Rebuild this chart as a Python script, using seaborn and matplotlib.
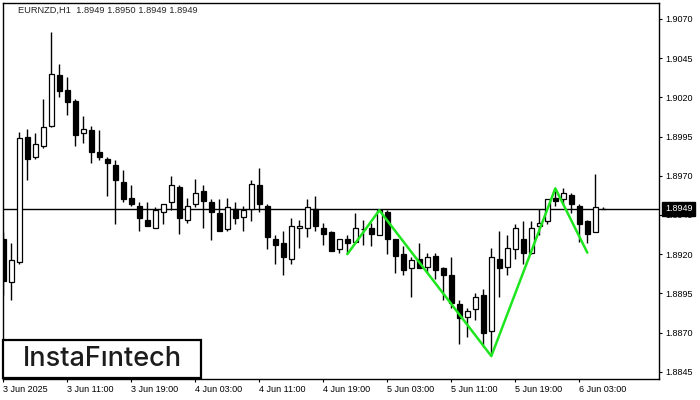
import matplotlib
matplotlib.use("Agg")
import matplotlib.pyplot as plt
import matplotlib.patches as mpatches
import matplotlib.transforms as mtransforms
import pandas as pd
import seaborn as sns

# EURNZD H1, one bar per hour starting 3 Jun 2025 03:00
opens = [
    1.8930, 1.8902, 1.8915, 1.8995, 1.8982, 1.8989, 1.9002, 1.9034, 1.9025, 1.9018,
    1.8997, 1.8999, 1.8985, 1.8981, 1.8977, 1.8966, 1.8956, 1.8951, 1.8942, 1.8937,
    1.8947, 1.8953, 1.8963, 1.8942, 1.8952, 1.8960, 1.8953, 1.8946, 1.8936, 1.8949,
    1.8944, 1.8949, 1.8964, 1.8951, 1.8930, 1.8927, 1.8917, 1.8937, 1.8937, 1.8949,
    1.8937, 1.8934, 1.8923, 1.8930, 1.8928, 1.8936, 1.8937, 1.8932, 1.8947, 1.8930,
    1.8920, 1.8911, 1.8917, 1.8912, 1.8919, 1.8911, 1.8907, 1.8888, 1.8880, 1.8885,
    1.8894, 1.8871, 1.8917, 1.8912, 1.8923, 1.8930, 1.8921, 1.8938, 1.8941, 1.8956,
    1.8955, 1.8958, 1.8951, 1.8941, 1.8934, 1.8949,
]
highs = [
    1.8934, 1.8927, 1.8998, 1.9000, 1.8997, 1.9019, 1.9062, 1.9041, 1.9033, 1.9019,
    1.9008, 1.9002, 1.8999, 1.8982, 1.8980, 1.8974, 1.8964, 1.8953, 1.8953, 1.8950,
    1.8952, 1.8970, 1.8964, 1.8956, 1.8968, 1.8964, 1.8955, 1.8955, 1.8956, 1.8953,
    1.8951, 1.8967, 1.8975, 1.8952, 1.8932, 1.8935, 1.8943, 1.8942, 1.8955, 1.8957,
    1.8940, 1.8935, 1.8930, 1.8932, 1.8946, 1.8942, 1.8940, 1.8948, 1.8948, 1.8930,
    1.8925, 1.8918, 1.8927, 1.8921, 1.8921, 1.8912, 1.8918, 1.8891, 1.8886, 1.8895,
    1.8898, 1.8924, 1.8935, 1.8932, 1.8939, 1.8941, 1.8941, 1.8949, 1.8955, 1.8962,
    1.8962, 1.8959, 1.8952, 1.8942, 1.8971, 1.8950,
]
lows = [
    1.8894, 1.8891, 1.8914, 1.8967, 1.8981, 1.8988, 1.9001, 1.9020, 1.9009, 1.8989,
    1.8991, 1.8978, 1.8980, 1.8957, 1.8939, 1.8953, 1.8951, 1.8935, 1.8938, 1.8937,
    1.8939, 1.8948, 1.8933, 1.8940, 1.8950, 1.8937, 1.8929, 1.8935, 1.8935, 1.8939,
    1.8935, 1.8941, 1.8947, 1.8923, 1.8914, 1.8907, 1.8914, 1.8924, 1.8931, 1.8935,
    1.8926, 1.8922, 1.8921, 1.8920, 1.8928, 1.8926, 1.8925, 1.8932, 1.8920, 1.8908,
    1.8907, 1.8893, 1.8911, 1.8908, 1.8904, 1.8891, 1.8886, 1.8863, 1.8867, 1.8878,
    1.8861, 1.8855, 1.8893, 1.8907, 1.8917, 1.8914, 1.8920, 1.8932, 1.8939, 1.8951,
    1.8952, 1.8946, 1.8928, 1.8927, 1.8934, 1.8949,
]
closes = [
    1.8903, 1.8916, 1.8994, 1.8981, 1.8990, 1.9001, 1.9035, 1.9024, 1.9017, 1.8996,
    1.9000, 1.8985, 1.8982, 1.8978, 1.8967, 1.8955, 1.8952, 1.8943, 1.8938, 1.8948,
    1.8952, 1.8964, 1.8943, 1.8951, 1.8959, 1.8954, 1.8947, 1.8935, 1.8950, 1.8943,
    1.8948, 1.8965, 1.8952, 1.8931, 1.8926, 1.8918, 1.8938, 1.8938, 1.8950, 1.8938,
    1.8933, 1.8922, 1.8930, 1.8927, 1.8937, 1.8936, 1.8933, 1.8948, 1.8930, 1.8919,
    1.8910, 1.8916, 1.8911, 1.8918, 1.8910, 1.8907, 1.8889, 1.8879, 1.8884, 1.8893,
    1.8870, 1.8918, 1.8911, 1.8924, 1.8937, 1.8921, 1.8937, 1.8940, 1.8955, 1.8954,
    1.8959, 1.8952, 1.8939, 1.8933, 1.8950, 1.8949,
]

time_tick_bars = [0, 8, 16, 24, 32, 40, 48, 56, 64, 72]
time_tick_labels = ["3 Jun 2025", "3 Jun 11:00", "3 Jun 19:00", "4 Jun 03:00",
                    "4 Jun 11:00", "4 Jun 19:00", "5 Jun 03:00", "5 Jun 11:00",
                    "5 Jun 19:00", "6 Jun 03:00"]
price_ticks = [1.8845, 1.8870, 1.8895, 1.8920, 1.8945,
               1.8970, 1.8995, 1.9020, 1.9045, 1.9070]

# inverse head & shoulders outline
pattern_bars = [43, 47, 61, 69, 73]
pattern_prices = [1.8920, 1.8948, 1.8855, 1.8962, 1.8921]

last_price = 1.8949
title = "EURNZD,H1  1.8949 1.8950 1.8949 1.8949"

df = pd.DataFrame({"open": opens, "high": highs, "low": lows, "close": closes})
df["bar"] = range(len(df))
df["up"] = df["close"] >= df["open"]

sns.set_style("white")
plt.rcParams["font.family"] = ["Liberation Sans", "DejaVu Sans"]

fig = plt.figure(figsize=(7, 4), dpi=100)
ax = fig.add_axes([3 / 700, 21 / 400, 656 / 700, 376 / 400])

ax.vlines(df["bar"], df["low"], df["high"], color="black", lw=1, zorder=2)
body_lo = df[["open", "close"]].min(axis=1)
body_h = (df["close"] - df["open"]).abs()
ax.bar(df["bar"], body_h, bottom=body_lo, width=0.55,
       color=["white" if u else "black" for u in df["up"]],
       edgecolor="black", linewidth=0.9, zorder=3)

ax.axhline(last_price, color="black", lw=1, zorder=1)

sns.lineplot(x=pattern_bars, y=pattern_prices, ax=ax, color="#1ee61e",
             lw=1.8, estimator=None, sort=False, zorder=4)

ax.set_xlim(-0.04, 81.96)
ax.set_ylim(1.88404, 1.90802)

ax.yaxis.tick_right()
ax.set_yticks(price_ticks)
ax.set_yticklabels([f"{p:.4f}" for p in price_ticks])
ax.set_xticks(time_tick_bars)
ax.set_xticklabels(time_tick_labels, ha="left")
ax.tick_params(axis="both", which="both", direction="out", length=2.2,
               width=0.8, labelsize=6.5, colors="black")
ax.tick_params(axis="y", pad=2.2, right=True, left=False)
ax.tick_params(axis="x", pad=2.0, bottom=True)
ax.set_xlabel("")
ax.set_ylabel("")
for s in ax.spines.values():
    s.set_color("black")
    s.set_linewidth(1)

# current price tag on the price scale
trans = mtransforms.blended_transform_factory(ax.transAxes, ax.transData)
ax.text(1.009, last_price, f"{last_price:.4f}", transform=trans, color="white",
        fontsize=6.5, va="center", ha="left", clip_on=False, zorder=10,
        bbox=dict(boxstyle="square,pad=0.3", fc="black", ec="black"))

fig.text(18 / 700, 1 - 10.7 / 400, title, fontsize=6.7, va="center", ha="left")

# logo
fig.add_artist(mpatches.Rectangle((3 / 700, 22 / 400), 198 / 700, 38 / 400,
                                  transform=fig.transFigure, fc="white",
                                  ec="black", lw=1.6, zorder=5))
fig.text(102 / 700, 1 - 359 / 400, "InstaF\u0131ntech", fontsize=19.5,
         family=["Inter", "DejaVu Sans"], fontweight="medium", color="#1c1c1c",
         ha="center", va="center", zorder=6)

fig.savefig("out.png", dpi=100)
